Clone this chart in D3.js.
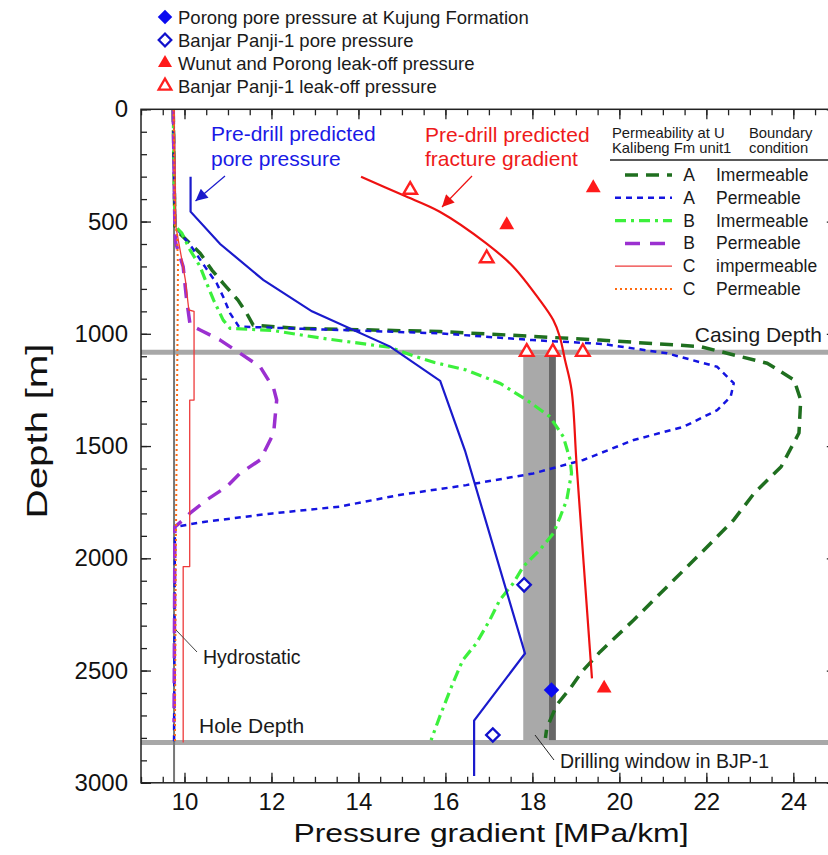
<!DOCTYPE html>
<html>
<head>
<meta charset="utf-8">
<script src="https://cdn.jsdelivr.net/npm/d3@7"></script>
<style>
  html, body { margin: 0; padding: 0; background: #fff; }
  svg { display: block; font-family: "Liberation Sans", Arial, Helvetica, sans-serif; }
</style>
</head>
<body>
<svg id="chart" width="828" height="855"></svg>
<script>
// ---- Data: pressure gradient [MPa/km] vs depth [m] ----
const xTickLabels = [10, 12, 14, 16, 18, 20, 22, 24];
const yTickLabels = [0, 500, 1000, 1500, 2000, 2500, 3000];

const hydrostatic = [[9.76, 0], [9.76, 3000]];
const casingDepth = 1082;
const holeDepth = 2821;
const drillingWindow = [17.79, 18.38];
const drillingWindowEdge = [18.38, 18.54];

// Pre-drill predictions
const porePredicted = [[10.14, 300], [10.14, 456], [10.82, 600], [11.81, 760], [12.93, 900], [14.73, 1057],
  [15.88, 1210], [16.45, 1520], [17.83, 2424], [16.66, 2723], [16.66, 2970]];
const fracturePredicted = [[14.06, 300], [15.02, 382], [15.87, 456], [16.94, 597], [17.56, 701], [18.17, 850],
  [18.48, 939], [18.63, 1013], [18.75, 1117], [18.9, 1250], [19.02, 1592], [19.37, 2535]];

// Simulated profiles: permeability at U Kalibeng Fm unit1 / boundary condition
const aImpermeable = [[9.74, 0], [9.78, 520], [9.85, 545], [10.36, 641], [10.63, 716], [10.89, 775], [11.23, 850],
  [11.43, 909], [11.58, 961], [12.58, 976], [14.34, 983], [15.87, 990], [17.4, 1005], [19.55, 1028], [21.86, 1057],
  [23.4, 1131], [24.02, 1206], [24.17, 1295], [24.13, 1442], [23.72, 1592], [23.1, 1710], [22.63, 1829],
  [21.87, 1978], [21.1, 2126], [20.33, 2275], [19.56, 2416], [19.14, 2505], [18.87, 2579], [18.56, 2653],
  [18.33, 2757], [18.3, 2800]];
const aPermeable = [[9.74, 0], [9.78, 520], [9.97, 567], [10.16, 612], [10.47, 701], [10.74, 775], [10.89, 835],
  [11.05, 909], [11.25, 968], [13.56, 983], [15.87, 998], [18.0, 1028], [19.6, 1045], [21.1, 1087], [22.25, 1147],
  [22.63, 1220], [22.56, 1280], [22.25, 1340], [21.48, 1414], [20.33, 1473], [19.17, 1562], [18.02, 1622],
  [16.48, 1674], [14.94, 1718], [13.56, 1770], [12.02, 1800], [10.48, 1837], [9.78, 1860], [9.76, 2820]];
const bImpermeable = [[9.74, 0], [9.78, 520], [9.94, 552], [10.13, 627], [10.36, 701], [10.51, 775], [10.67, 850],
  [10.89, 939], [11.05, 976], [12.02, 985], [13.17, 1020], [14.71, 1060], [15.3, 1100], [15.75, 1128],
  [16.48, 1161], [17.25, 1220], [17.87, 1295], [18.4, 1369], [18.71, 1458], [18.87, 1562], [18.9, 1621],
  [18.79, 1740], [18.64, 1815], [18.48, 1889], [18.17, 1963], [17.79, 2037], [17.56, 2111], [17.25, 2186],
  [17.02, 2275], [16.71, 2379], [16.4, 2453], [16.17, 2557], [15.87, 2705], [15.67, 2810]];
const bPermeable = [[9.74, 0], [9.78, 540], [9.8, 597], [9.97, 701], [10.05, 850], [10.13, 961], [10.36, 983],
  [10.82, 1028], [11.28, 1087], [11.74, 1147], [12.05, 1243], [12.12, 1295], [12.05, 1443], [11.74, 1562],
  [11.28, 1621], [10.97, 1681], [10.51, 1740], [10.12, 1800], [9.97, 1829], [9.78, 1860], [9.76, 2730]];
const cImpermeable = [[9.76, 0], [9.8, 520], [9.94, 671], [10.02, 760], [10.1, 894], [10.22, 900], [10.22, 1295],
  [10.12, 1295], [10.12, 2037], [9.97, 2037], [9.97, 2821]];
const cPermeable = [[9.75, 0], [9.78, 520], [9.83, 552], [9.85, 701], [9.84, 1000], [9.8, 2000], [9.78, 2821]];

// Measured points
const poreKujung = [[18.44, 2587]];
const porePanji = [[17.81, 2118], [17.09, 2787]];
const leakOffWunutPorong = [[19.4, 350], [17.41, 515], [19.65, 2579]];
const leakOffPanji = [[15.19, 359], [16.95, 664], [17.87, 1081], [18.47, 1081], [19.16, 1081]];

// Legend entries
const markerLegend = ["Porong pore pressure at Kujung Formation", "Banjar Panji-1 pore pressure",
  "Wunut and Porong leak-off pressure", "Banjar Panji-1 leak-off pressure"];
const caseLetters = ["A", "A", "B", "B", "C", "C"];
const caseConditions = ["Imermeable", "Permeable", "Imermeable", "Permeable", "impermeable", "Permeable"];

// ---- Drawing ----
const svg = d3.select("#chart");
const x = d3.scaleLinear().domain([9, 25]).range([141, 836.8]);
const y = d3.scaleLinear().domain([0, 3000]).range([109.3, 782.8]);
const line = d3.line().x(d => x(d[0])).y(d => y(d[1]));

const textColor = "#1a1a1a";

// Casing depth and hole depth bars
[casingDepth, holeDepth].forEach(d => {
  svg.append("line").attr("x1", x(9)).attr("x2", x(25)).attr("y1", y(d)).attr("y2", y(d))
    .attr("stroke", "#a8a8a8").attr("stroke-width", 5);
});

// Drilling window in BJP-1
svg.append("rect").attr("x", x(drillingWindow[0])).attr("width", x(drillingWindow[1]) - x(drillingWindow[0]))
  .attr("y", y(casingDepth) + 2.5).attr("height", y(holeDepth) - y(casingDepth) - 5).attr("fill", "#a9a9a9");
svg.append("rect").attr("x", x(drillingWindowEdge[0])).attr("width", x(drillingWindowEdge[1]) - x(drillingWindowEdge[0]))
  .attr("y", y(casingDepth) + 2.5).attr("height", y(holeDepth) - y(casingDepth) - 5).attr("fill", "#676767");

// Hydrostatic
svg.append("path").datum(hydrostatic).attr("d", line).attr("fill", "none")
  .attr("stroke", "#777").attr("stroke-width", 2);

// Simulated pressure profiles
const profiles = [
  { data: aImpermeable, color: "#1f6f1f", width: 3.5, dash: "13,8" },
  { data: aPermeable, color: "#1414e0", width: 2.5, dash: "6,5" },
  { data: bImpermeable, color: "#3cf03c", width: 3.2, dash: "11,5,3,5" },
  { data: bPermeable, color: "#9b30d0", width: 3.5, dash: "15,10" },
  { data: cImpermeable, color: "#ee3b3b", width: 1.3, dash: null },
  { data: cPermeable, color: "#ff6a10", width: 2, dash: "2,3" }
];
profiles.forEach(p => {
  svg.append("path").datum(p.data).attr("d", line).attr("fill", "none")
    .attr("stroke", p.color).attr("stroke-width", p.width)
    .attr("stroke-dasharray", p.dash).attr("stroke-linejoin", "round");
});

// Pre-drill predicted pore pressure and fracture gradient
svg.append("path").datum(porePredicted).attr("d", line).attr("fill", "none")
  .attr("stroke", "#1a1acc").attr("stroke-width", 2.2);
svg.append("path").datum(fracturePredicted).attr("d", line.curve(d3.curveCatmullRom)).attr("fill", "none")
  .attr("stroke", "#ee1111").attr("stroke-width", 2.2);
line.curve(d3.curveLinear);

// Markers
const diamond = d3.symbol().type(d3.symbolSquare).size(120);
const triangle = d3.symbol().type(d3.symbolTriangle).size(95);
const triangleOpen = d3.symbol().type(d3.symbolTriangle).size(80);

svg.selectAll(".pk").data(poreKujung).join("path")
  .attr("d", diamond).attr("transform", d => `translate(${x(d[0])},${y(d[1])}) rotate(45)`)
  .attr("fill", "#0a0af0");
svg.selectAll(".pp").data(porePanji).join("path")
  .attr("d", d3.symbol().type(d3.symbolSquare).size(90)).attr("transform", d => `translate(${x(d[0])},${y(d[1])}) rotate(45)`)
  .attr("fill", "#fff").attr("stroke", "#1111cc").attr("stroke-width", 2.3);
svg.selectAll(".lw").data(leakOffWunutPorong).join("path")
  .attr("d", triangle).attr("transform", d => `translate(${x(d[0])},${y(d[1])})`)
  .attr("fill", "#ff1a1a");
svg.selectAll(".lp").data(leakOffPanji).join("path")
  .attr("d", triangleOpen).attr("transform", d => `translate(${x(d[0])},${y(d[1])})`)
  .attr("fill", "#fff").attr("stroke", "#ff2020").attr("stroke-width", 2.4);

// Arrow heads
const defs = svg.append("defs");
[["arrowBlue", "#1a1acc"], ["arrowRed", "#ee1111"]].forEach(([id, c]) => {
  defs.append("marker").attr("id", id).attr("viewBox", "0 0 10 10").attr("refX", 10).attr("refY", 5)
    .attr("markerWidth", 15).attr("markerHeight", 12).attr("markerUnits", "userSpaceOnUse").attr("orient", "auto")
    .append("path").attr("d", "M0,0 L10,5 L0,10 z").attr("fill", c);
});

// Annotations
const annotate = (lines, x0, y0, color, size) => {
  const t = svg.append("text").attr("x", x0).attr("y", y0).attr("fill", color).attr("font-size", size);
  lines.forEach((s, i) => t.append("tspan").attr("x", x0).attr("dy", i ? 24.5 : 0).text(s));
};
annotate(["Pre-drill predicted", "pore pressure"], 211, 141, "#1a1ae6", 21);
annotate(["Pre-drill predicted", "fracture gradient"], 425, 141.5, "#ee1a1a", 21);
svg.append("line").attr("x1", 225).attr("y1", 176).attr("x2", 195.5).attr("y2", 201)
  .attr("stroke", "#1a1acc").attr("stroke-width", 1.2).attr("marker-end", "url(#arrowBlue)");
svg.append("line").attr("x1", 472).attr("y1", 176).attr("x2", 442).attr("y2", 207)
  .attr("stroke", "#ee1111").attr("stroke-width", 1.2).attr("marker-end", "url(#arrowRed)");

svg.append("text").attr("x", 822).attr("y", 342).attr("text-anchor", "end").attr("font-size", 21)
  .attr("fill", textColor).text("Casing Depth");
svg.append("text").attr("x", 199).attr("y", 733).attr("font-size", 21).attr("fill", textColor).text("Hole Depth");
svg.append("text").attr("x", 203).attr("y", 664).attr("font-size", 19.5).attr("fill", textColor).text("Hydrostatic");
svg.append("line").attr("x1", 176).attr("y1", 630).attr("x2", 197).attr("y2", 652).attr("stroke", "#444").attr("stroke-width", 1);
svg.append("text").attr("x", 560).attr("y", 768).attr("font-size", 19.5).attr("fill", textColor).text("Drilling window in BJP-1");
svg.append("line").attr("x1", 535).attr("y1", 735).attr("x2", 554).attr("y2", 760).attr("stroke", "#222").attr("stroke-width", 1);

// ---- Axes ----
const xMinor = d3.range(9, 25.01, 0.5);
const yMinor = d3.range(0, 3001, 100);
const styleAxis = g => {
  g.select(".domain").remove();
  g.selectAll("line").attr("stroke", "#222").attr("stroke-width", 1.3);
  g.selectAll("text").attr("font-size", 24).attr("fill", "#111")
    .attr("font-family", "\"Liberation Sans\", Arial, sans-serif");
};
svg.append("g").attr("transform", `translate(0,${y(3000)})`)
  .call(d3.axisBottom(x).tickValues(xMinor).tickSize(-6).tickFormat("")).call(styleAxis);
svg.append("g").attr("transform", `translate(0,${y(3000)})`)
  .call(d3.axisBottom(x).tickValues(xTickLabels).tickSize(-10).tickPadding(10).tickFormat(d3.format("d"))).call(styleAxis);
svg.append("g").attr("transform", `translate(0,${y(0)})`)
  .call(d3.axisTop(x).tickValues(xMinor).tickSize(-6).tickFormat("")).call(styleAxis);
svg.append("g").attr("transform", `translate(0,${y(0)})`)
  .call(d3.axisTop(x).tickValues(xTickLabels).tickSize(-10).tickFormat("")).call(styleAxis);
svg.append("g").attr("transform", `translate(${x(9)},0)`)
  .call(d3.axisLeft(y).tickValues(yMinor).tickSize(-6).tickFormat("")).call(styleAxis);
svg.append("g").attr("transform", `translate(${x(9)},0)`)
  .call(d3.axisLeft(y).tickValues(yTickLabels).tickSize(-10).tickPadding(13).tickFormat(d3.format("d"))).call(styleAxis);
svg.append("g").attr("transform", `translate(${x(25)},0)`)
  .call(d3.axisRight(y).tickValues(yMinor).tickSize(-6).tickFormat("")).call(styleAxis);
svg.append("g").attr("transform", `translate(${x(25)},0)`)
  .call(d3.axisRight(y).tickValues(yTickLabels).tickSize(-10).tickFormat("")).call(styleAxis);

svg.append("rect").attr("x", x(9)).attr("y", y(0)).attr("width", x(25) - x(9)).attr("height", y(3000) - y(0))
  .attr("fill", "none").attr("stroke", "#222").attr("stroke-width", 1.5);

// Axis titles
svg.append("text").attr("x", 491).attr("y", 842).attr("text-anchor", "middle").attr("font-size", 26)
  .attr("textLength", 395).attr("lengthAdjust", "spacingAndGlyphs").attr("fill", "#111")
  .text("Pressure gradient [MPa/km]");
svg.append("text").attr("transform", "translate(47,431) rotate(-90)").attr("text-anchor", "middle")
  .attr("font-size", 30).attr("textLength", 175).attr("lengthAdjust", "spacingAndGlyphs").attr("fill", "#111")
  .text("Depth [m]");

// ---- Marker legend (top) ----
const mLeg = svg.append("g");
const legendSymbols = [
  g => g.append("path").attr("d", d3.symbol().type(d3.symbolSquare).size(105)).attr("transform", "rotate(45)").attr("fill", "#0a0af0"),
  g => g.append("path").attr("d", d3.symbol().type(d3.symbolSquare).size(80)).attr("transform", "rotate(45)")
    .attr("fill", "#fff").attr("stroke", "#1111cc").attr("stroke-width", 2.2),
  g => g.append("path").attr("d", d3.symbol().type(d3.symbolTriangle).size(85)).attr("fill", "#ff1a1a"),
  g => g.append("path").attr("d", d3.symbol().type(d3.symbolTriangle).size(70))
    .attr("fill", "#fff").attr("stroke", "#ff2020").attr("stroke-width", 2.3)
];
markerLegend.forEach((label, i) => {
  const row = mLeg.append("g").attr("transform", `translate(0,${17 + i * 23})`);
  legendSymbols[i](row.append("g").attr("transform", "translate(165,0)"));
  row.append("text").attr("x", 178).attr("y", 6.5).attr("font-size", 18.5).attr("fill", textColor).text(label);
});

// ---- Profile legend (right) ----
const pLeg = svg.append("g");
pLeg.append("text").attr("x", 612).attr("y", 137.5).attr("font-size", 14.8).attr("fill", textColor).text("Permeability at U");
pLeg.append("text").attr("x", 612).attr("y", 153).attr("font-size", 14.8).attr("fill", textColor).text("Kalibeng Fm unit1");
pLeg.append("text").attr("x", 749).attr("y", 137.5).attr("font-size", 14.8).attr("fill", textColor).text("Boundary");
pLeg.append("text").attr("x", 749).attr("y", 153).attr("font-size", 14.8).attr("fill", textColor).text("condition");
pLeg.append("line").attr("x1", 610).attr("x2", 828).attr("y1", 160).attr("y2", 160).attr("stroke", "#222").attr("stroke-width", 1.3);
profiles.forEach((p, i) => {
  const cy = 175 + i * 22.8;
  const sx0 = p.dash === "13,8" || p.dash === "15,10" ? 625 : 615;
  pLeg.append("line").attr("x1", sx0).attr("x2", 672).attr("y1", cy).attr("y2", cy)
    .attr("stroke", p.color).attr("stroke-width", p.width).attr("stroke-dasharray", p.dash);
  pLeg.append("text").attr("x", 689).attr("y", cy + 6).attr("text-anchor", "middle").attr("font-size", 17.5)
    .attr("fill", textColor).text(caseLetters[i]);
  pLeg.append("text").attr("x", 716).attr("y", cy + 6).attr("font-size", 17.5)
    .attr("fill", textColor).text(caseConditions[i]);
});
</script>
</body>
</html>
